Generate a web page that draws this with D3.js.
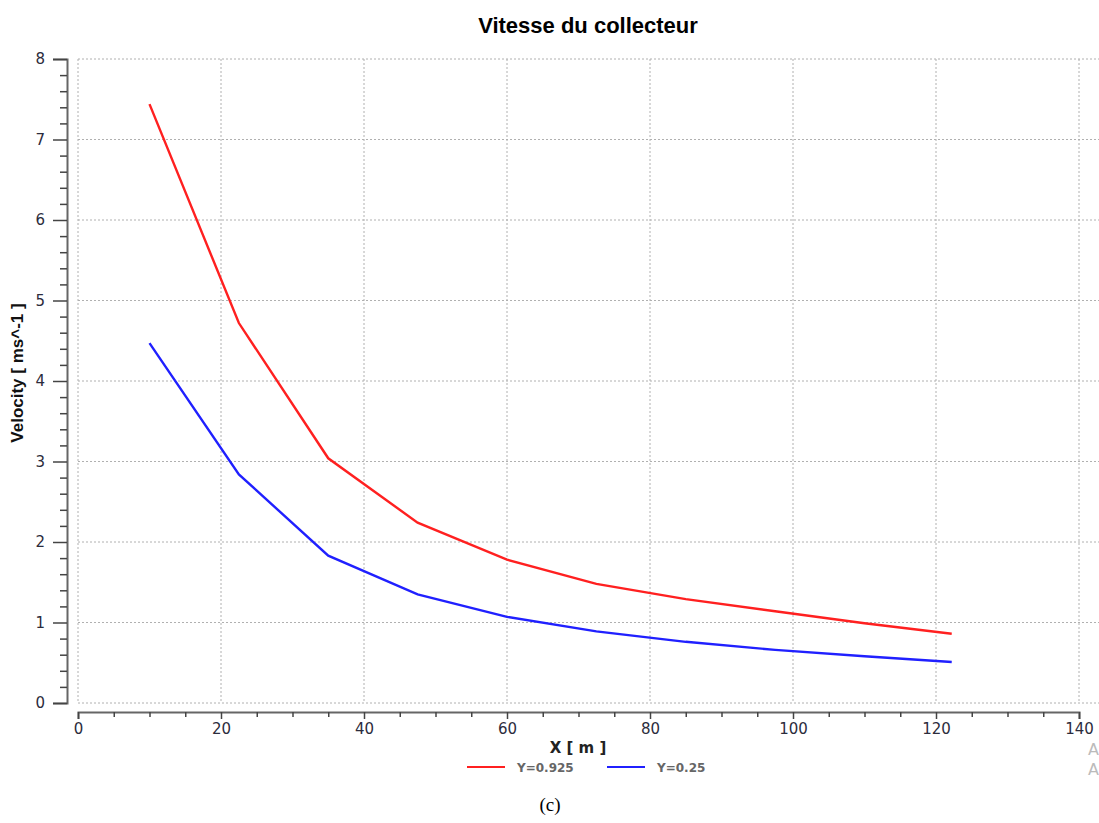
<!DOCTYPE html>
<html>
<head>
<meta charset="utf-8">
<script src="https://cdn.jsdelivr.net/npm/d3@7"></script>
<style>
  body { margin: 0; background: #fff; }
  svg { display: block; }
</style>
</head>
<body>
<div id="chart"></div>
<script>
(function() {
'use strict';

// data
var xPos = [10, 22.5, 35, 47.5, 60, 72.5, 85, 97.5, 110, 122.2];
var velTop = [7.44, 4.72, 3.04, 2.24, 1.78, 1.48, 1.29, 1.14, 0.99, 0.86];
var velBottom = [4.47, 2.84, 1.83, 1.35, 1.07, 0.89, 0.76, 0.66, 0.58, 0.51];
var seriesNames = ['Y=0.925', 'Y=0.25'];
var seriesColors = ['#ff2020', '#2020ff'];
var xTicks = [0, 20, 40, 60, 80, 100, 120, 140];
var yTicks = [0, 1, 2, 3, 4, 5, 6, 7, 8];

var W = 1099, H = 823;
var svg = d3.select('#chart').append('svg').attr('width', W).attr('height', H);

var x = d3.scaleLinear().domain([0, 140]).range([78, 1079]);
var y = d3.scaleLinear().domain([0, 8]).range([703, 59]);

// grid
svg.append('g').selectAll('line').data(yTicks).enter().append('line')
    .attr('x1', 78).attr('x2', W)
    .attr('y1', function (d) { return y(d); }).attr('y2', function (d) { return y(d); })
    .attr('stroke', '#b0b0b0').attr('stroke-width', 1).attr('stroke-dasharray', '2,2');
svg.append('g').selectAll('line').data(xTicks).enter().append('line')
    .attr('y1', 59).attr('y2', 703)
    .attr('x1', function (d) { return x(d); }).attr('x2', function (d) { return x(d); })
    .attr('stroke', '#b0b0b0').attr('stroke-width', 1).attr('stroke-dasharray', '2,2');

// x axis (offset below plot)
svg.append('g').attr('transform', 'translate(0,712)')
    .call(d3.axisBottom(x).tickValues(xTicks).tickSize(7).tickPadding(4).tickFormat(d3.format('d')));
svg.append('g').attr('transform', 'translate(0,712)')
    .call(d3.axisBottom(x).tickValues(d3.range(0, 141, 5).filter(function (d) { return d % 20; }))
        .tickSize(5).tickFormat(''))
    .select('.domain').remove();

// y axis (offset left of plot)
svg.append('g').attr('transform', 'translate(67,0)')
    .call(d3.axisLeft(y).tickValues(yTicks).tickSize(14).tickPadding(8).tickFormat(d3.format('d')));
svg.append('g').attr('transform', 'translate(67,0)')
    .call(d3.axisLeft(y).tickValues(d3.range(0, 40).map(function (i) { return i * 0.2; })
        .filter(function (d, i) { return i % 5; })).tickSize(7).tickFormat(''))
    .select('.domain').remove();

svg.selectAll('.domain').attr('stroke', '#666').attr('stroke-width', 2);
svg.selectAll('.tick line').attr('stroke', '#444').attr('stroke-width', 1.5);
svg.selectAll('.tick text')
    .attr('fill', '#2c2c3c').attr('font-family', 'DejaVu Sans, Verdana, sans-serif')
    .attr('font-size', 15);

// lines
var line = d3.line()
    .x(function (d) { return x(d[0]); })
    .y(function (d) { return y(d[1]); });

[velTop, velBottom].forEach(function (vals, i) {
    svg.append('path')
        .datum(d3.zip(xPos, vals))
        .attr('d', line)
        .attr('fill', 'none')
        .attr('stroke', seriesColors[i])
        .attr('stroke-width', 2.4);
});

// titles
svg.append('text').attr('x', 588).attr('y', 33).attr('text-anchor', 'middle')
    .attr('font-family', 'Liberation Sans Narrow, Arial Narrow, sans-serif')
    .attr('font-weight', 'bold').attr('font-size', 22).attr('fill', '#000')
    .text('Vitesse du collecteur');

svg.append('text').attr('transform', 'translate(23,373) rotate(-90)')
    .attr('text-anchor', 'middle')
    .attr('font-family', 'Liberation Sans Narrow, Arial Narrow, sans-serif')
    .attr('font-weight', 'bold').attr('font-size', 17).attr('fill', '#111')
    .text('Velocity [ ms^-1 ]');

svg.append('text').attr('x', 578).attr('y', 753).attr('text-anchor', 'middle')
    .attr('font-family', 'DejaVu Sans, Verdana, sans-serif')
    .attr('font-weight', 'bold').attr('font-size', 15).attr('fill', '#222')
    .text('X [ m ]');

// legend
var legend = svg.append('g').selectAll('g').data(seriesNames).enter().append('g')
    .attr('transform', function (d, i) { return 'translate(' + (467 + i * 140) + ',767)'; });
legend.append('line').attr('x1', 0).attr('x2', 38).attr('y1', 0).attr('y2', 0)
    .attr('stroke', function (d, i) { return seriesColors[i]; }).attr('stroke-width', 1.8);
legend.append('text').attr('x', 50).attr('y', 5)
    .attr('font-family', 'DejaVu Sans, Verdana, sans-serif').attr('font-size', 12)
    .attr('font-weight', 'bold')
    .attr('fill', '#666').text(function (d) { return d; });

// clipped annotation letters at right edge
svg.selectAll('.edge').data([755, 775]).enter().append('text')
    .attr('x', 1088).attr('y', function (d) { return d; })
    .attr('font-family', 'DejaVu Sans, sans-serif').attr('font-size', 16)
    .attr('fill', '#bbb').text('A');

// caption
svg.append('text').attr('x', 550).attr('y', 811).attr('text-anchor', 'middle')
    .attr('font-family', 'Liberation Serif, Times New Roman, serif')
    .attr('font-size', 19).attr('fill', '#000')
    .text('(c)');

})();
</script>
</body>
</html>
